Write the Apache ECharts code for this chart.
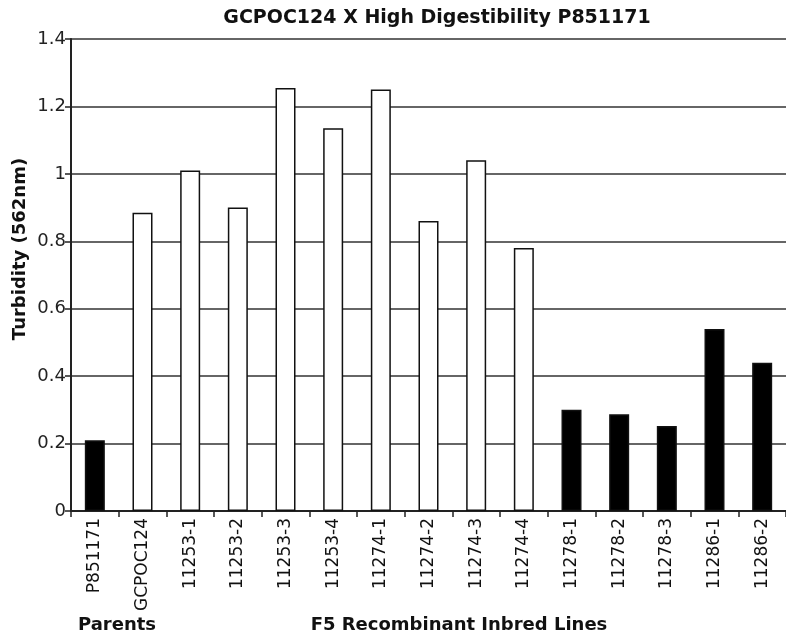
<!DOCTYPE html>
<html>
<head>
<meta charset="utf-8">
<script src="https://cdn.jsdelivr.net/npm/echarts@6/dist/echarts.min.js"></script>
<style>html,body{margin:0;padding:0;background:#fff}#c{width:786px;height:635px}</style>
</head>
<body>
<div id="c"></div>
<script>
const titleText = 'GCPOC124 X High Digestibility P851171';
const yAxisName = 'Turbidity (562nm)';
const groupParents = 'Parents';
const groupLines = 'F5 Recombinant Inbred Lines';
const categories = ['P851171','GCPOC124','11253-1','11253-2','11253-3','11253-4','11274-1','11274-2','11274-3','11274-4','11278-1','11278-2','11278-3','11286-1','11286-2'];
const turbidity = [0.21,0.885,1.01,0.90,1.255,1.135,1.25,0.86,1.04,0.78,0.30,0.287,0.252,0.54,0.44];
const lowTurbidityLine = [true,false,false,false,false,false,false,false,false,false,true,true,true,true,true];
const yTicks = [0,0.2,0.4,0.6,0.8,1,1.2,1.4];

const chart = echarts.init(document.getElementById('c'), null, {renderer:'canvas'});
const font = 'DejaVu Sans, Verdana, sans-serif';
chart.setOption({
  animation:false,
  backgroundColor:'#fff',
  title:{text:titleText,left:432,top:4,textAlign:'center',
    textStyle:{fontFamily:font,fontWeight:'bold',fontSize:19,color:'#111'}},
  grid:{left:71,right:-8,top:39,bottom:124},
  xAxis:{type:'category',data:categories,
    axisLine:{lineStyle:{color:'#222',width:2}},
    axisTick:{show:true,length:6,lineStyle:{color:'#222',width:1.5},alignWithLabel:false},
    axisLabel:{rotate:90,interval:0,fontFamily:font,fontSize:17,color:'#111',margin:7}},
  yAxis:{type:'value',min:yTicks[0],max:yTicks[yTicks.length-1],interval:0.2,
    axisLine:{show:true,lineStyle:{color:'#222',width:2}},
    axisTick:{show:true,length:6,lineStyle:{color:'#222',width:1.5}},
    axisLabel:{fontFamily:font,fontSize:18,color:'#222',margin:5},
    splitLine:{show:true,lineStyle:{color:'#333',width:1.5}}},
  graphic:[
    {type:'text',x:20,y:249,rotation:Math.PI/2,
      style:{text:yAxisName,fontFamily:font,fontWeight:'bold',fontSize:18,fill:'#111',textAlign:'center',textVerticalAlign:'middle'}},
    {type:'text',x:117,y:625,
      style:{text:groupParents,fontFamily:font,fontWeight:'bold',fontSize:18,fill:'#111',textAlign:'center',textVerticalAlign:'middle'}},
    {type:'text',x:459,y:625,
      style:{text:groupLines,fontFamily:font,fontWeight:'bold',fontSize:18,fill:'#111',textAlign:'center',textVerticalAlign:'middle'}}
  ],
  series:[{type:'bar',barWidth:20,
    data:turbidity.map((v,i)=>({value:v,itemStyle:{color:lowTurbidityLine[i]?'#000':'#fff',borderColor:'#111',borderWidth:1.5}}))}]
});
</script>
</body>
</html>
